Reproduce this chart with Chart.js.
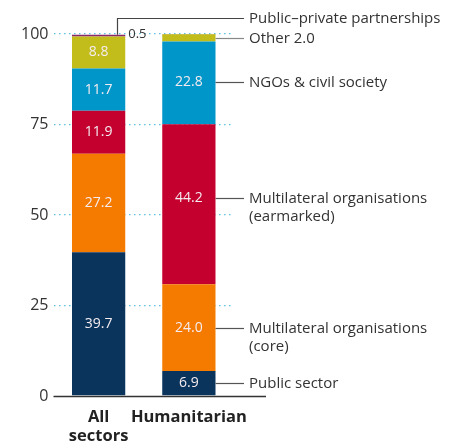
<!DOCTYPE html>
<html>
<head>
<meta charset="utf-8">
<script src="https://cdn.jsdelivr.net/npm/chart.js@4/dist/chart.umd.min.js"></script>
<style>
html,body{margin:0;padding:0;background:#fff;}
canvas{display:block;}
</style>
</head>
<body>
<canvas id="c" width="454" height="441"></canvas>
<script>
const categories = [['All', 'sectors'], 'Humanitarian'];
const seriesNames = ['Public sector', 'Multilateral organisations (core)', 'Multilateral organisations (earmarked)', 'NGOs & civil society', 'Other', 'Public\u2013private partnerships'];
const publicSector = [39.7, 6.9];
const multiCore = [27.2, 24.0];
const multiEarmarked = [11.9, 44.2];
const ngos = [11.7, 22.8];
const other = [8.8, 2.0];
const ppp = [0.5, 0.1];
const yTicks = [0, 25, 50, 75, 100];
const rightLabels = [['Public sector'], ['Multilateral organisations', '(core)'], ['Multilateral organisations', '(earmarked)'], ['NGOs & civil society'], ['Other 2.0'], ['Public\u2013private partnerships']];

const colors = ['#0b345c', '#f47b00', '#c4002f', '#0096c9', '#c3bd1c', '#8a2a6a'];
const seriesData = [publicSector, multiCore, multiEarmarked, ngos, other, ppp];
const labelNudge = [0, 0, -6, -1, 0, 0];
const FONT = '"Open Sans", sans-serif';

const annot = {
  id: 'annot',
  afterDatasetsDraw(chart) {
    const ctx = chart.ctx;
    const area = chart.chartArea;
    ctx.save();
    // axis line
    ctx.strokeStyle = '#333';
    ctx.lineWidth = 1.5;
    ctx.beginPath();
    ctx.moveTo(area.left, chart.scales.y.getPixelForValue(0) + 0.5);
    ctx.lineTo(area.right + 32, chart.scales.y.getPixelForValue(0) + 0.5);
    ctx.stroke();

    // value labels in bars
    ctx.font = '14px ' + FONT;
    ctx.textAlign = 'center';
    ctx.textBaseline = 'middle';
    ctx.fillStyle = '#f4ecf0';
    chart.data.datasets.forEach((ds, di) => {
      const meta = chart.getDatasetMeta(di);
      meta.data.forEach((el, i) => {
        const v = ds.data[i];
        if (v >= 5) {
          const nudge = i === 1 ? labelNudge[di] : 0;
          ctx.fillText(v.toFixed(1), el.x, (el.y + el.base) / 2 + nudge);
        }
      });
    });

    // right labels from Humanitarian column
    const hi = 1;
    const textX = area.right + 15;
    ctx.textAlign = 'left';
    ctx.font = '15px ' + FONT;
    let otherY = 0;
    for (let di = 0; di < 5; di++) {
      const el = chart.getDatasetMeta(di).data[hi];
      const y = Math.round((el.y + el.base) / 2 + labelNudge[di]) + 0.5;
      if (di === 4) otherY = y;
      const x0 = el.x + el.width / 2;
      ctx.strokeStyle = di === 4 ? '#888' : '#555';
      ctx.lineWidth = 1.2;
      ctx.beginPath();
      ctx.moveTo(x0, y);
      ctx.lineTo(area.right + 10, y);
      ctx.stroke();
      ctx.fillStyle = '#333';
      rightLabels[di].forEach((t, k) => ctx.fillText(t, textX, y + k * 18));
    }
    // PPP leader from All sectors
    const pel = chart.getDatasetMeta(5).data[0];
    const px = Math.round(pel.x + pel.width / 2 - 8) + 0.5;
    const py = otherY - 20;
    ctx.strokeStyle = '#444';
    ctx.lineWidth = 1.2;
    ctx.beginPath();
    ctx.moveTo(px, pel.y);
    ctx.lineTo(px, py);
    ctx.lineTo(area.right + 10, py);
    ctx.stroke();
    ctx.fillStyle = '#333';
    ctx.fillText(rightLabels[5][0], textX, py);
    ctx.font = '13px ' + FONT;
    ctx.fillText(ppp[0].toFixed(1), pel.x + pel.width / 2 + 3, pel.y);
    ctx.restore();
  }
};

new Chart(document.getElementById('c'), {
  type: 'bar',
  data: {
    labels: categories,
    datasets: seriesData.map((d, i) => ({
      label: seriesNames[i],
      data: d,
      backgroundColor: colors[i],
      borderWidth: 0,
      categoryPercentage: 1,
      barPercentage: 0.59
    }))
  },
  options: {
    responsive: false,
    animation: false,
    devicePixelRatio: 1,
    layout: { padding: { top: 34, right: 220, left: 0, bottom: 0 } },
    plugins: { legend: { display: false }, tooltip: { enabled: false } },
    scales: {
      x: {
        stacked: true,
        grid: { display: false },
        border: { display: false },
        ticks: { color: '#222', font: { family: FONT, size: 16.5, weight: 'bold' }, padding: 3, maxRotation: 0, autoSkip: false },
        afterFit(s) { s.height = 45; }
      },
      y: {
        stacked: true,
        min: 0, max: 100,
        afterBuildTicks(s) { s.ticks = yTicks.map(v => ({ value: v })); },
        grid: {
          drawTicks: false,
          color: c => (c.tick && c.tick.value === 0) ? 'rgba(0,0,0,0)' : '#5fbfe0',
          lineWidth: 1.3
        },
        border: { display: false, dash: [1.5, 3.5] },
        ticks: { color: '#333', font: { family: FONT, size: 16 }, padding: 5 },
        afterFit(s) { s.width = 53.5; }
      }
    }
  },
  plugins: [annot]
});
</script>
</body>
</html>
